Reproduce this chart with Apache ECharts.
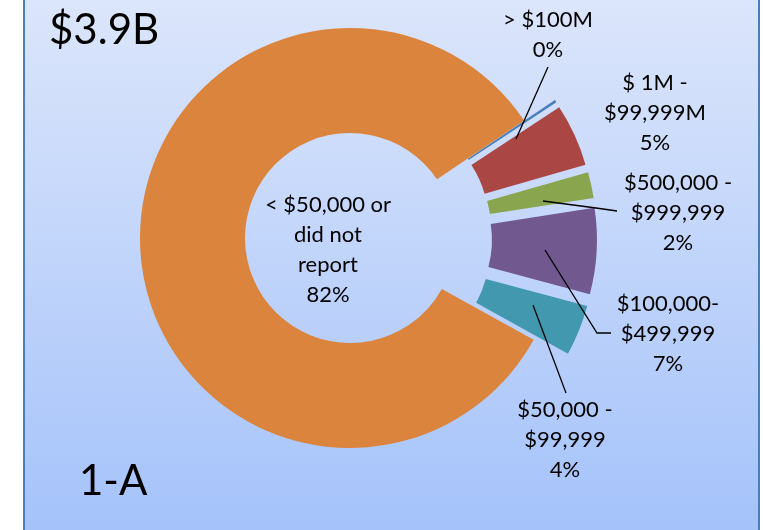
<!DOCTYPE html>
<html lang="en">
<head>
  <meta charset="UTF-8">
  <title>1-A</title>
  <style>
    html, body { margin: 0; padding: 0; background: #fff; }
    #chart { width: 763px; height: 530px; }
  </style>
</head>
<body>
  <div id="chart"></div>
  <script src="https://cdn.jsdelivr.net/npm/echarts@6/dist/echarts.min.js"></script>
  <script>
    // slices, clockwise from the upper right
    const categories = ['> $100M', '$ 1M -\n$99,999M', '$500,000 -\n$999,999', '$100,000-\n$499,999', '$50,000 -\n$99,999', '< $50,000 or\ndid not\nreport'];
    const shares = [0.2, 4.8, 2.0, 6.6, 3.9, 82.5];
    const colors = ['#4a7ebb', '#aa4643', '#89a54e', '#71588f', '#4198af', '#db843d'];
    const exploded = [true, true, true, true, true, false];

    // where each label sits, and its leader line
    const labelSpots = [
      { x: 548, y: 35, line: [[516, 139], [548, 67]] },
      { x: 655, y: 113, line: null },
      { x: 678, y: 213, line: [[543, 201], [596, 208], [617, 211]] },
      { x: 668, y: 334, line: [[545, 250], [597, 333], [611, 333]] },
      { x: 565, y: 440, line: [[533, 305], [566, 393]] },
      { x: 328, y: 250, line: null }
    ];

    const font = 'Lato, "Open Sans", sans-serif';
    const pieCenter = [350, 238];
    const pieRadius = [105, 210];
    const pieStart = 34;

    let chart = echarts.init(document.getElementById('chart'));

    // the coloured rings, small slices pulled out
    let sliceData = categories.map(function (name, i) {
      return {
        name: name,
        value: shares[i],
        selected: exploded[i],
        itemStyle: { color: colors[i] }
      };
    });

    // same slices again, invisible, only to carry the labels
    let labelData = categories.map(function (name, i) {
      return {
        name: name,
        value: shares[i],
        labelLine: { show: !!labelSpots[i].line }
      };
    });

    let option = {
      animation: false,
      graphic: [{
        type: 'rect',
        z: -10,
        silent: true,
        shape: { x: 24, y: -4, width: 735, height: 540 },
        style: {
          fill: new echarts.graphic.LinearGradient(0, 0, 0, 1, [
            { offset: 0, color: '#dce6fb' },
            { offset: 1, color: '#a4c2fa' }
          ]),
          stroke: '#4a7ebb',
          lineWidth: 2
        }
      }],
      title: [{
        text: '$3.9B',
        left: 44,
        top: 4,
        textStyle: { fontFamily: font, fontSize: 42, fontWeight: 'normal', color: '#000' }
      }, {
        text: '1-A',
        left: 74,
        top: 455,
        textStyle: { fontFamily: font, fontSize: 42, fontWeight: 'normal', color: '#000' }
      }],
      series: [{
        type: 'pie',
        z: 2,
        center: pieCenter,
        radius: pieRadius,
        startAngle: pieStart,
        clockwise: true,
        selectedMode: 'multiple',
        selectedOffset: 37,
        emphasis: { disabled: true },
        itemStyle: { borderWidth: 0 },
        label: { show: false },
        labelLine: { show: false },
        data: sliceData
      }, {
        type: 'pie',
        z: 5,
        silent: true,
        center: pieCenter,
        radius: pieRadius,
        startAngle: pieStart,
        clockwise: true,
        percentPrecision: 0,
        avoidLabelOverlap: false,
        emphasis: { disabled: true },
        itemStyle: { color: 'rgba(0,0,0,0)', borderWidth: 0 },
        label: {
          show: true,
          formatter: '{b}\n{d}%',
          fontFamily: font,
          fontSize: 22,
          lineHeight: 30,
          color: '#000',
          align: 'center'
        },
        labelLine: {
          show: true,
          lineStyle: { color: '#000', width: 1.3 }
        },
        labelLayout: function (params) {
          let spot = labelSpots[params.dataIndex];
          let res = { x: spot.x, y: spot.y, align: 'center', verticalAlign: 'middle' };
          if (spot.line) res.labelLinePoints = spot.line;
          return res;
        },
        data: labelData
      }]
    };
    chart.setOption(option);
  </script>
</body>
</html>
